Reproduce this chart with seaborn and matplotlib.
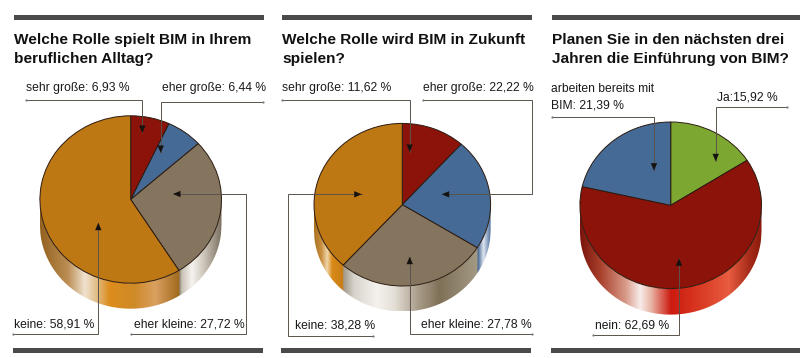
import numpy as np
import matplotlib
matplotlib.use("Agg")
import matplotlib.pyplot as plt
from matplotlib.colors import LinearSegmentedColormap, to_rgb
from matplotlib.patches import Polygon
import seaborn as sns

sns.set_theme(style="white")
W, H = 800, 358

titles = ["Welche Rolle spielt BIM in Ihrem\nberuflichen Alltag?",
          "Welche Rolle wird BIM in Zukunft\nspielen?",
          "Planen Sie in den nächsten drei\nJahren die Einführung von BIM?"]
values_alltag = [6.93, 6.44, 27.72, 58.91]
values_zukunft = [11.62, 22.22, 27.78, 38.28]
values_planung = [15.92, 62.69, 21.39]
labels_alltag = ["sehr große: 6,93 %", "eher große: 6,44 %", "eher kleine: 27,72 %", "keine: 58,91 %"]
labels_zukunft = ["sehr große: 11,62 %", "eher große: 22,22 %", "eher kleine: 27,78 %", "keine: 38,28 %"]
labels_planung = ["Ja:15,92 %", "nein: 62,69 %", "arbeiten bereits mit\nBIM: 21,39 %"]

RED, BLUE, GREY, ORANGE, GREEN = "#8b1309", "#456a96", "#85755f", "#bd7814", "#7ca832"
ORANGE_W = [(0, "#94621f"), (.2, "#bc8e54"), (.32, "#f0e2d0"), (.39, "#e3c596"), (.5, "#dd8c1c"),
            (.68, "#cf8a28"), (.83, "#d9a060"), (1, "#a06a1c")]
GREY_W = [(0, "#8a7c68"), (.06, "#c9c2b6"), (.3, "#f6f3f0"), (.6, "#c9c2b6"), (1, "#7a6f60")]
ORANGE_W2 = [(0, "#a8701e"), (.25, "#c89040"), (.45, "#f0d6aa"), (.62, "#d98a18"), (1, "#c87d14")]
GREY_W2 = [(0, "#a09888"), (.08, "#d8d4cc"), (.25, "#f5f2ee"), (.38, "#e4dfd6"), (.56, "#a89c88"),
           (.72, "#807058"), (1, "#a39a84")]
BLUE_W2 = [(0, "#3d5f8e"), (.45, "#dfe6f0"), (1, "#4b6d9c")]
RED_W = [(0, "#7a130a"), (.11, "#a8402c"), (.25, "#d89a88"), (.33, "#f8ecea"), (.39, "#e9b5a5"),
         (.5, "#cc1a10"), (.66, "#d93a22"), (.82, "#e85c40"), (.93, "#a82c1a"), (1, "#8a1a0c")]

pies = [
    dict(values=values_alltag, colors=[RED, BLUE, GREY, ORANGE], walls=[None, None, GREY_W, ORANGE_W],
         cx=130.7, cy=199.5, rx=90.8, ry=83.7, depth=25.5),
    dict(values=values_zukunft, colors=[RED, BLUE, GREY, ORANGE], walls=[None, BLUE_W2, GREY_W2, ORANGE_W2],
         cx=402.3, cy=204.7, rx=88.3, ry=81.3, depth=25.5),
    dict(values=values_planung, colors=[GREEN, RED, BLUE], walls=[None, RED_W, None],
         cx=670.7, cy=205.3, rx=90.8, ry=83.3, depth=26),
]

fig = plt.figure(figsize=(W / 100, H / 100), dpi=100, facecolor="white")


def draw_pie(p):
    d = p["depth"] / p["ry"]
    left = (p["cx"] - p["rx"]) / W
    bottom = (H - p["cy"] - p["ry"] - p["depth"]) / H
    ax = fig.add_axes([left, bottom, 2 * p["rx"] / W, (2 * p["ry"] + p["depth"]) / H])
    ax.axis("off")

    # side wall: one column of colours per x, following the wedge that owns it
    xs = np.linspace(-1, 1, 800)
    col = np.ones((1, xs.size, 3))
    ends = np.cumsum(p["values"]) / np.sum(p["values"]) * 360
    starts = np.r_[0, ends[:-1]]
    for a0, a1, stops in zip(starts, ends, p["walls"]):
        a0, a1 = max(a0, 90), min(a1, 270)
        if a1 <= a0 or stops is None:
            continue
        x_hi, x_lo = np.sin(np.radians(a0)), np.sin(np.radians(a1))
        cmap = LinearSegmentedColormap.from_list("w", [(s, to_rgb(c)) for s, c in stops])
        m = (xs >= x_lo) & (xs <= x_hi)
        col[0, m] = cmap((xs[m] - x_lo) / (x_hi - x_lo))[:, :3]
    im = ax.imshow(col, extent=(-1, 1, -1 - d, 0), aspect="auto", zorder=1, interpolation="bilinear")
    t = np.linspace(-1, 1, 400)
    low = -np.sqrt(1 - t ** 2)
    poly = np.r_[np.c_[t, low], np.c_[t[::-1], low[::-1] - d]]
    clip = Polygon(poly, closed=True, transform=ax.transData, fc="none", ec="none")
    ax.add_patch(clip)
    im.set_clip_path(clip)

    wedges, _ = ax.pie(p["values"], colors=p["colors"], startangle=90, counterclock=False, radius=1,
                       wedgeprops=dict(edgecolor="#2b1a10", linewidth=0.7, zorder=3))
    for w in wedges:
        w.set_clip_on(False)
    ax.set_aspect("auto")
    ax.set_xlim(-1, 1)
    ax.set_ylim(-1 - d, 1)


for p in pies:
    draw_pie(p)

# page layer in pixel coordinates: rules, titles, labels and leader lines
page = fig.add_axes([0, 0, 1, 1], zorder=5)
page.set_xlim(0, W)
page.set_ylim(H, 0)
page.axis("off")
page.patch.set_alpha(0)

RULE = "#4a4a4a"
for x0, x1 in [(14, 264), (282.3, 532), (551.7, 800)]:
    page.fill_between([x0, x1], 15, 20, color=RULE, lw=0)
for x0, x1 in [(13, 263), (281, 531), (550.5, 800)]:
    page.fill_between([x0, x1], 348, 352.7, color=RULE, lw=0)

TITLE_FONT = ["Liberation Sans", "DejaVu Sans"]
LABEL_FONT = ["Liberation Sans", "DejaVu Sans"]
LABEL_SIZE = 8.7
for x, title in zip([14, 282.5, 552], titles):
    for i, line in enumerate(title.split("\n")):
        page.text(x, 44 + i * 18.5, line, family=TITLE_FONT, fontweight="bold", fontsize=11.05,
                  color="#111111", va="baseline", ha="left")

text_items = [
    (25.7, 87.5, labels_alltag[0]), (161.5, 87.5, labels_alltag[1]),
    (134, 324.5, labels_alltag[2]), (14, 324.5, labels_alltag[3]),
    (281.7, 87.5, labels_zukunft[0]), (422.7, 87.5, labels_zukunft[1]),
    (421, 324.5, labels_zukunft[2]), (295, 325.5, labels_zukunft[3]),
    (717.3, 97, labels_planung[0]), (595, 326, labels_planung[1]),
]
for x, y, s in text_items:
    page.text(x, y, s, family=LABEL_FONT, fontsize=LABEL_SIZE, color="#1a1a1a", va="center", ha="left")
for i, line in enumerate(labels_planung[2].split("\n")):
    page.text(550.7, 89 + i * 16.7, line, family=LABEL_FONT, fontsize=LABEL_SIZE, color="#1a1a1a", va="center", ha="left")

leaders = [
    [(26, 99.5), (142.3, 99.5), (142.3, 133)],
    [(263, 101.5), (160.7, 101.5), (160.7, 153)],
    [(130.7, 334.3), (246, 334.3), (246, 194), (173, 194)],
    [(13.3, 334.3), (98.3, 334.3), (98.3, 222.7)],
    [(282.3, 99.5), (409.7, 99.5), (409.7, 152)],
    [(423.3, 99.5), (531.7, 99.5), (531.7, 194.3), (441.7, 194.3)],
    [(532.3, 334.3), (409.7, 334.3), (409.7, 256.7)],
    [(373.3, 335.7), (287.7, 335.7), (287.7, 194.3), (361.7, 194.3)],
    [(552, 117), (654, 117), (654, 170.7)],
    [(787.3, 107.3), (715.7, 107.3), (715.7, 161.3)],
    [(593.3, 335.3), (679, 335.3), (679, 258.3)],
]
for pts in leaders:
    xy = np.array(pts, float)
    page.plot(xy[:, 0], xy[:, 1], color="#5a534c", lw=0.7, solid_joinstyle="miter", zorder=6)
    page.plot(xy[0, 0], xy[0, 1], "o", ms=1.6, color="#777777", mew=0, zorder=6)
    tip = xy[-1]
    u = (xy[-2] - tip) / np.linalg.norm(xy[-2] - tip)
    n = np.array([-u[1], u[0]])
    head = [tip, tip + u * 7.5 + n * 3.2, tip + u * 7.5 - n * 3.2]
    page.add_patch(Polygon(head, closed=True, fc="#15120f", ec="none", zorder=7))

fig.savefig("out.png", dpi=100, facecolor="white")
